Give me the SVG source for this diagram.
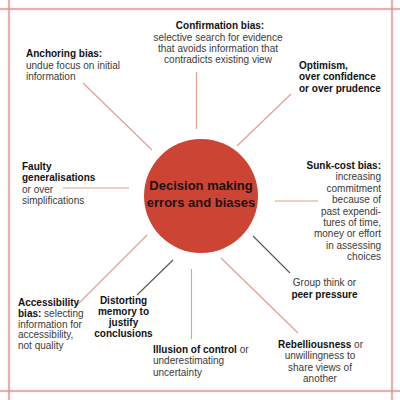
<svg xmlns="http://www.w3.org/2000/svg" width="400" height="400" viewBox="0 0 400 400">
  <style>
    text { font-family: "Liberation Sans", Arial, sans-serif; font-size: 10px; fill: #3a3a3a; }
    .b { font-weight: bold; fill: #111; }
    .title { font-size: 13px; font-weight: bold; fill: #1e1212; text-anchor: middle; }
    .c { text-anchor: middle; }
    .r { text-anchor: end; }
    .frame-halo { stroke: #f7dcd8; stroke-width: 2.6; fill: none; }
    .frame { stroke: #d6857b; stroke-width: 1; fill: none; }
    .pk { stroke: #e39c8e; stroke-width: 1.1; fill: none; }
    .gy { stroke: #555; stroke-width: 1.1; fill: none; }
  </style>
  <rect width="400" height="400" fill="#fff"/>
  <g id="frame">
    <path class="frame-halo" d="M0 9H400M0 391H400M9 0V400M392 0V400"/>
    <path class="frame" d="M0 9H400M0 391H400M9 0V400M392 0V400"/>
  </g>
  <g id="connectors">
    <line class="pk" x1="83" y1="83" x2="152" y2="150"/>
    <line class="pk" x1="196.5" y1="72" x2="196.5" y2="129"/>
    <line class="pk" x1="291" y1="94" x2="237" y2="146"/>
    <line class="pk" x1="63" y1="188" x2="129" y2="188"/>
    <line class="pk" x1="275" y1="201" x2="318" y2="201"/>
    <line class="gy" x1="253" y1="236" x2="290" y2="273"/>
    <line class="pk" x1="221" y1="258" x2="298" y2="333"/>
    <line class="pk" x1="191.5" y1="269" x2="191.5" y2="339"/>
    <line class="gy" x1="173" y1="260" x2="137" y2="295"/>
    <line class="pk" x1="147" y1="235" x2="77" y2="305"/>
  </g>
  <g id="center">
    <circle cx="201" cy="196" r="57" fill="#cc4434"/>
    <text class="title" x="201" y="190">Decision making</text>
    <text class="title" x="201" y="207">errors and biases</text>
  </g>
  <g id="confirmation">
    <text class="b c" x="220" y="29">Confirmation bias:</text>
    <text class="c" x="218" y="40.5">selective search for evidence</text>
    <text class="c" x="218" y="51.8">that avoids information that</text>
    <text class="c" x="218" y="63">contradicts existing view</text>
  </g>
  <g id="anchoring">
    <text class="b" x="26" y="57">Anchoring bias:</text>
    <text x="26" y="68.5">undue focus on initial</text>
    <text x="26" y="80">information</text>
  </g>
  <g id="optimism">
    <text class="b" x="299" y="68.5">Optimism,</text>
    <text class="b" x="299" y="80">over confidence</text>
    <text class="b" x="299" y="91.5">or over prudence</text>
  </g>
  <g id="faulty">
    <text class="b" x="22" y="170">Faulty</text>
    <text class="b" x="22" y="181.3">generalisations</text>
    <text x="22" y="192.6">or over</text>
    <text x="22" y="203.9">simplifications</text>
  </g>
  <g id="sunkcost">
    <text class="b r" x="381" y="169">Sunk-cost bias:</text>
    <text class="r" x="381" y="180.4">increasing</text>
    <text class="r" x="381" y="191.8">commitment</text>
    <text class="r" x="381" y="203.2">because of</text>
    <text class="r" x="381" y="214.6">past expendi-</text>
    <text class="r" x="381" y="226">tures of time,</text>
    <text class="r" x="381" y="237.4">money or effort</text>
    <text class="r" x="381" y="248.8">in assessing</text>
    <text class="r" x="381" y="260.2">choices</text>
  </g>
  <g id="groupthink">
    <text class="c" x="324.5" y="286">Group think or</text>
    <text class="b c" x="324.5" y="297.5">peer pressure</text>
  </g>
  <g id="rebelliousness">
    <text class="c" x="320.5" y="348"><tspan class="b">Rebelliousness</tspan> or</text>
    <text class="c" x="320" y="359.3">unwillingness to</text>
    <text class="c" x="320" y="370.6">share views of</text>
    <text class="c" x="320" y="381.9">another</text>
  </g>
  <g id="illusion">
    <text x="153" y="353"><tspan class="b">Illusion of control</tspan> or</text>
    <text x="153" y="364.4">underestimating</text>
    <text x="153" y="375.8">uncertainty</text>
  </g>
  <g id="distorting">
    <text class="b c" x="123.5" y="304">Distorting</text>
    <text class="b c" x="123.5" y="315">memory to</text>
    <text class="b c" x="123.5" y="326">justify</text>
    <text class="b c" x="123.5" y="337">conclusions</text>
  </g>
  <g id="accessibility">
    <text class="b" x="18" y="306">Accessibility</text>
    <text x="18" y="316.8"><tspan class="b">bias:</tspan> selecting</text>
    <text x="18" y="327.6">information for</text>
    <text x="18" y="338.4">accessibility,</text>
    <text x="18" y="349.2">not quality</text>
  </g>
</svg>
